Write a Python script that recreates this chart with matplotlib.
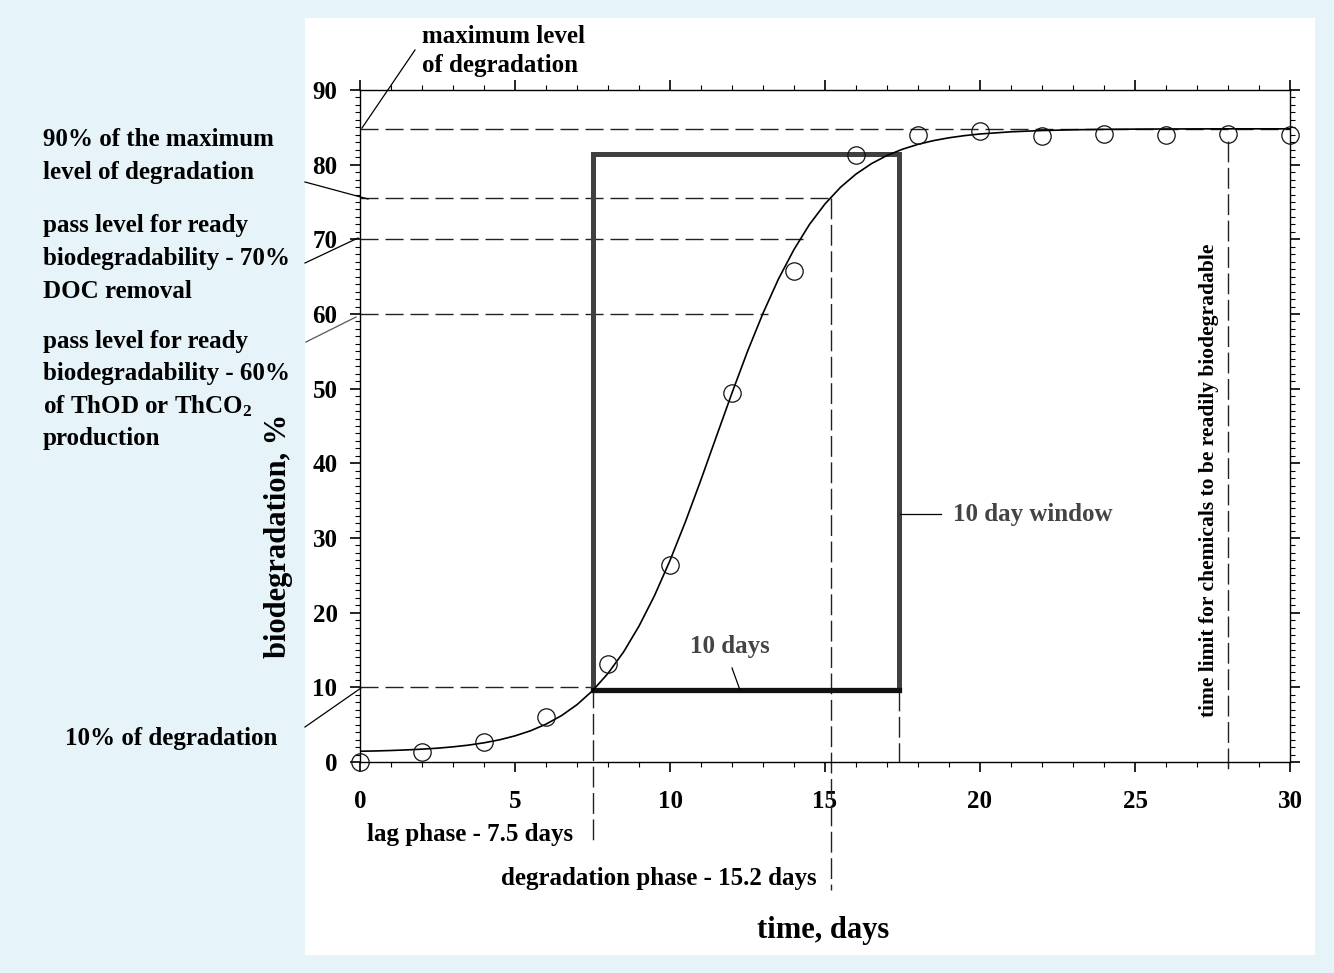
import matplotlib
matplotlib.use("Agg")
import matplotlib.pyplot as plt
from matplotlib.ticker import MultipleLocator
from matplotlib.patches import Rectangle

# ---------------- data ----------------
days = [0, 2, 4, 6, 8, 10, 12, 14, 16, 18, 20, 22, 24, 26, 28, 30]
measured = [0.0, 1.4, 2.7, 6.0, 13.1, 26.4, 49.4, 65.7, 81.3, 84.0,
            84.5, 83.8, 84.1, 84.0, 84.1, 84.0]

curve_x = [0, 0.5, 1, 1.5, 2, 2.5, 3, 3.5, 4, 4.5, 5, 5.5, 6, 6.5, 7, 7.5,
           8, 8.5, 9, 9.5, 10, 10.5, 11, 11.5, 12, 12.5, 13, 13.5, 14, 14.5,
           15, 15.5, 16, 16.5, 17, 17.5, 18, 18.5, 19, 19.5, 20, 21, 22, 23,
           24, 25, 26, 27, 28, 29, 30]
curve_y = [1.44, 1.48, 1.54, 1.62, 1.72, 1.85, 2.03, 2.26, 2.57, 2.97, 3.50,
           4.18, 5.07, 6.21, 7.68, 9.54, 11.87, 14.72, 18.20, 22.28, 26.99,
           32.2, 37.81, 43.64, 49.43, 54.99, 60.1, 64.7, 68.64, 72.0, 74.74,
           76.97, 78.74, 80.14, 81.23, 82.07, 82.72, 83.22, 83.60, 83.89,
           84.11, 84.40, 84.57, 84.67, 84.73, 84.76, 84.78, 84.79, 84.80,
           84.80, 84.80]

max_level = 84.8
level_90pct = 75.5
pass_doc = 70
pass_thod = 60
level_10pct = 10
lag_end = 7.5
degradation_end = 15.2
window_end = 17.4
window_bottom = 9.6
window_top = 81.4
time_limit = 28
dash_70_end = 14.3
dash_60_end = 13.15

x_ticks = [0, 5, 10, 15, 20, 25, 30]
y_ticks = [0, 10, 20, 30, 40, 50, 60, 70, 80, 90]

# ---------------- figure ----------------
W, H = 1334, 973
plt.rcParams['font.family'] = ['Liberation Serif', 'DejaVu Serif']
plt.rcParams['font.weight'] = 'bold'
plt.rcParams['mathtext.fontset'] = 'custom'
plt.rcParams['mathtext.rm'] = 'Liberation Serif:bold'
plt.rcParams['mathtext.bf'] = 'Liberation Serif:bold'
plt.rcParams['mathtext.it'] = 'Liberation Serif:bold'

BG = '#e6f4fa'
fig = plt.figure(figsize=(W / 100, H / 100), dpi=100, facecolor=BG)
fig.patches.append(Rectangle((305 / W, 1 - 955 / H), (1315 - 305) / W, (955 - 18) / H,
                             transform=fig.transFigure, facecolor='white',
                             edgecolor='none', zorder=-5))

ax = fig.add_axes([360 / W, 1 - 762 / H, 930 / W, 672 / H])
ax.set_zorder(2)
ax.set_xlim(0, 30)
ax.set_ylim(0, 90)
ax.set_facecolor('white')
for s in ax.spines.values():
    s.set_linewidth(1.0)
    s.set_color('black')

ax.set_xticks(x_ticks)
ax.set_yticks(y_ticks)
ax.xaxis.set_minor_locator(MultipleLocator(1))
ax.yaxis.set_minor_locator(MultipleLocator(1))
ax.tick_params(which='both', direction='out', top=True, right=True,
               labeltop=False, labelright=False, colors='black')
ax.tick_params(which='major', length=7.2, width=1.2, labelsize=18)
ax.tick_params(which='minor', length=3.8, width=0.8)
ax.tick_params(axis='x', which='major', pad=13)
ax.tick_params(axis='y', which='major', pad=9)

DASH_H = (0, (13, 5))
DASH_V = (0, (15, 4))
DC = '#222222'

# horizontal dashed reference lines
ax.plot([0, 30], [max_level, max_level], ls=DASH_H, color=DC, lw=1.0, zorder=2)
ax.plot([0, degradation_end], [level_90pct, level_90pct], ls=DASH_H, color=DC, lw=1.0, zorder=2)
ax.plot([0, dash_70_end], [pass_doc, pass_doc], ls=DASH_H, color=DC, lw=1.0, zorder=2)
ax.plot([0, dash_60_end], [pass_thod, pass_thod], ls=DASH_H, color=DC, lw=1.0, zorder=2)
ax.plot([0, lag_end], [level_10pct, level_10pct], ls=DASH_H, color=DC, lw=1.0, zorder=2)

# vertical dashed lines
ax.plot([lag_end, lag_end], [level_10pct, -11.1], ls=DASH_V, color=DC, lw=1.0,
        clip_on=False, zorder=2)
ax.plot([degradation_end, degradation_end], [level_90pct, -17.2], ls=DASH_V, color=DC,
        lw=1.0, clip_on=False, zorder=2)
ax.plot([window_end, window_end], [window_bottom, 0], ls=DASH_V, color=DC, lw=1.0, zorder=2)
ax.plot([time_limit, time_limit], [83.2, -1.0], ls=DASH_V, color=DC, lw=1.0,
        clip_on=False, zorder=2)

# 10 day window rectangle
ax.plot([lag_end, lag_end, window_end, window_end],
        [window_bottom, window_top, window_top, window_bottom],
        color='#404040', lw=3.6, solid_joinstyle='miter', solid_capstyle='projecting', zorder=3)
ax.plot([lag_end, window_end], [window_bottom, window_bottom], color='#111111', lw=3.8,
        solid_capstyle='projecting', zorder=3)

# fitted curve and measured points
ax.plot(curve_x, curve_y, color='black', lw=1.2, zorder=4)
ax.plot(days, measured, ls='none', marker='o', ms=12.5, mfc='none', mec='#111111',
        mew=0.9, clip_on=False, zorder=5)

# leader lines
def px2data(px, py):
    return (px - 360) / 31.0, (762 - py) / (672 / 90)

def leader(p0, p1, color='black', lw=0.9):
    x0, y0 = px2data(*p0)
    x1, y1 = px2data(*p1)
    ax.plot([x0, x1], [y0, y1], color=color, lw=lw, clip_on=False, zorder=3)

leader((415, 50), (362, 128))
leader((305, 182), (368, 199))
leader((305, 263), (358, 238))
leader((306, 342), (356, 317), color='#555555')
leader((305, 727), (361, 688))
leader((732, 668), (740, 690))
leader((900, 514), (941, 514))

# ---------------- texts ----------------
def ftxt(x, y, s, size=18, color='black', ha='left', rotation=0, va='baseline'):
    fig.text(x / W, 1 - y / H, s, fontsize=size, color=color, ha=ha, va=va,
             rotation=rotation, fontweight='bold')

ftxt(422, 43, 'maximum level')
ftxt(422, 72, 'of degradation')

ftxt(43, 146, '90% of the maximum')
ftxt(43, 179, 'level of degradation')
ftxt(43, 232, 'pass level for ready')
ftxt(43, 265, 'biodegradability - 70%')
ftxt(43, 298, 'DOC removal')
ftxt(43, 348, 'pass level for ready')
ftxt(43, 380, 'biodegradability - 60%')
ftxt(43, 413, r'of ThOD or ThCO$_{\mathbf{2}}$')
ftxt(43, 445, 'production')
ftxt(65, 745, '10% of degradation')

ftxt(367, 841, 'lag phase - 7.5 days')
ftxt(817, 885, 'degradation phase - 15.2 days', ha='right')
ftxt(730, 653, '10 days', color='#444444', ha='center')
ftxt(953, 521, '10 day window', color='#444444')
ftxt(1219, 480, 'time limit for chemicals to be readily biodegradable', size=15.5,
     rotation=90, ha='right', va='center')

ftxt(823, 938, 'time, days', size=22, ha='center')
ftxt(293, 536, 'biodegradation, %', size=22, rotation=90, ha='right', va='center')

fig.savefig('out.png', dpi=100, facecolor=fig.get_facecolor())
